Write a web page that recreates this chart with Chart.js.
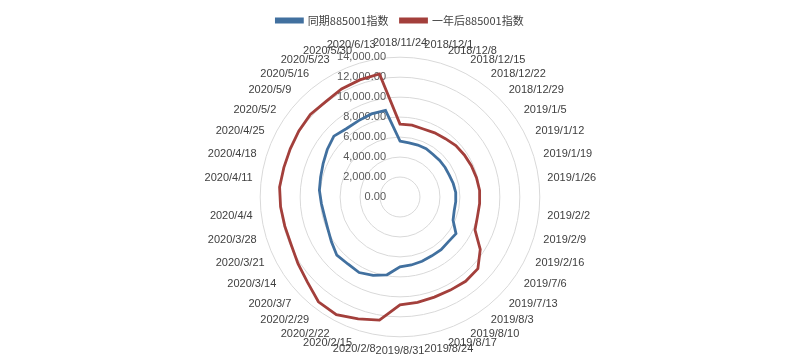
<!DOCTYPE html>
<html lang="zh-CN">
<head>
<meta charset="UTF-8">
<title>同期885001指数 / 一年后885001指数</title>
<script src="https://cdn.jsdelivr.net/npm/chart.js@4.4.0/dist/chart.umd.min.js"></script>
<style>
  html, body { margin: 0; padding: 0; background: #fff; }
  .wrap { width: 800px; height: 362px; }
</style>
</head>
<body>
<div class="wrap"><canvas id="chart"></canvas></div>
<script>
// categories (weekly dates), clockwise from the top
const fechas = [
  '2018/11/24', '2018/12/1', '2018/12/8', '2018/12/15', '2018/12/22', '2018/12/29',
  '2019/1/5', '2019/1/12', '2019/1/19', '2019/1/26', '2019/2/2', '2019/2/9', '2019/2/16',
  '2019/7/6', '2019/7/13', '2019/8/3', '2019/8/10', '2019/8/17', '2019/8/24', '2019/8/31',
  '2020/2/8', '2020/2/15', '2020/2/22', '2020/2/29', '2020/3/7', '2020/3/14', '2020/3/21',
  '2020/3/28', '2020/4/4', '2020/4/11', '2020/4/18', '2020/4/25', '2020/5/2', '2020/5/9',
  '2020/5/16', '2020/5/23', '2020/5/30', '2020/6/13'
]

// 同期885001指数
const tongqi = [
  5600, 5500, 5500, 5500, 5400, 5400, 5400, 5400, 5500, 5600, 5600, 5600, 5800,
  6700, 6600, 6700, 6700, 6800, 6900, 7000,
  7900, 8300, 8600, 8500, 8600, 8200, 7900, 7800, 7900, 8100, 8200, 8400, 8700,
  9000, 8700, 8700, 8800, 8800
]

// 一年后885001指数
const yinianhou = [
  7300, 7300, 7200, 7300, 7400, 7600, 7700, 7800, 7900, 8000, 8000, 8000, 8200,
  9600, 10600, 10700, 10600, 10600, 10700, 10800,
  12500, 12900, 13400, 13300, 12600, 12200, 11900, 11900, 12000, 12100, 12000, 12000, 12100,
  12200, 12100, 12300, 12400, 12500
]

const ticksEje = [0, 2000, 4000, 6000, 8000, 10000, 12000, 14000]

function fmt(v) {
  return v.toLocaleString('en-US', { minimumFractionDigits: 2, maximumFractionDigits: 2 })
}

// value labels sit just left of the vertical axis, like the original
const ejeTicks = {
  id: 'ejeTicks',
  beforeDatasetsDraw(chart) {
    const s = chart.scales.r
    const ctx = chart.ctx
    ctx.save()
    ctx.font = '11px "Liberation Sans"'
    ctx.fillStyle = '#595959'
    ctx.textAlign = 'right'
    ctx.textBaseline = 'middle'
    ticksEje.forEach(v => {
      const d = s.getDistanceFromCenterForValue(v)
      ctx.fillText(fmt(v), s.xCenter - 14, s.yCenter - d)
    })
    ctx.restore()
  }
}

const ctx = document.querySelector('#chart').getContext('2d')
const chart = new Chart(ctx, {
  type: 'radar',
  data: {
    labels: fechas,
    datasets: [
      {
        label: '同期885001指数',
        data: tongqi,
        borderColor: '#41709f',
        backgroundColor: '#41709f',
        borderWidth: 2.8,
        pointRadius: 0,
        fill: false
      },
      {
        label: '一年后885001指数',
        data: yinianhou,
        borderColor: '#a33f3b',
        backgroundColor: '#a33f3b',
        borderWidth: 2.8,
        pointRadius: 0,
        fill: false
      }
    ]
  },
  options: {
    responsive: true,
    maintainAspectRatio: false,
    animation: false,
    layout: { padding: { top: 3, bottom: 3, left: 0, right: 0 } },
    plugins: {
      legend: {
        position: 'top',
        labels: {
          boxWidth: 26,
          boxHeight: 3,
          padding: 12,
          color: '#404040',
          font: { size: 11, family: '"Noto Sans CJK SC", "Liberation Sans"' }
        }
      },
      tooltip: { enabled: false }
    },
    scales: {
      r: {
        min: 0,
        max: 14000,
        ticks: { stepSize: 2000, display: false },
        grid: { circular: true, color: '#d9d9d9', lineWidth: 1 },
        angleLines: { display: false },
        pointLabels: {
          color: '#404040',
          padding: 8,
          font: { size: 11, family: '"Liberation Sans"' }
        }
      }
    }
  },
  plugins: [ejeTicks]
})
</script>
</body>
</html>
